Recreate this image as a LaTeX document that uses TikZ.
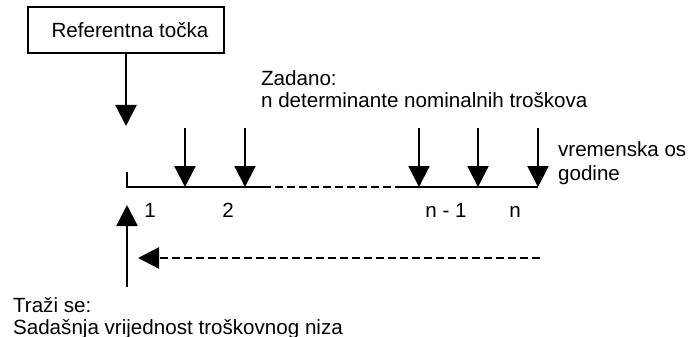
\documentclass[tikz,border=0pt]{standalone}
\usepackage{fontspec}
\setmainfont{Liberation Sans}
\usetikzlibrary{arrows.meta}
\begin{document}
\begin{tikzpicture}[x=1pt,y=-1pt,
  line width=2.2pt,
  txt/.style={font=\fontsize{20.6}{23}\selectfont, inner sep=0pt, anchor=base west},
  num/.style={font=\fontsize{20.6}{23}\selectfont, inner sep=0pt, anchor=base},
  arr/.style={-{Triangle[length=21pt,width=21pt]}},
  dsh/.style={dash pattern=on 8pt off 4pt},
  refbox/.style={draw, line width=2pt, minimum width=196pt, minimum height=46pt,
    inner sep=0pt, font=\fontsize{20.6}{23}\selectfont}]
\useasboundingbox (0,0) rectangle (689,337);

% reference point and its arrow
\node[refbox] (ref) at (126,30) {\hspace*{8pt}Referentna točka};
\coordinate (reftip) at (126,126);
\draw[arr] (ref.south) -- (reftip);

% time axis
\coordinate (t0top) at (127,172);
\coordinate (t0) at (127,187);
\coordinate (s1) at (263,187);
\coordinate (s2) at (400,187);
\coordinate (tn) at (538,187);
\draw[line join=miter] (t0top) -- (t0) -- (s1);
\draw[dsh] (s1) -- (s2);
\draw (s2) -- (tn);

% nominal cost arrows
\foreach \x/\n in {185/1,245/2,419/3,478/4,538/5}{
  \coordinate (top\n) at (\x,128);
  \coordinate (pay\n) at (\x,187);
  \draw[arr] (top\n) -- (pay\n);
}

% period labels
\node[num] (lab1) at (150,217) {1};
\node[num] (lab2) at (228,217) {2};
\node[num] (lab3) at (446,217) {n - 1};
\node[num] (lab4) at (515,217) {n};

% discounting back to the reference point
\coordinate (back0) at (540,258);
\coordinate (back1) at (138,258);
\draw[arr,dsh] (back0) -- (back1);

\coordinate (seekbase) at (127,287);
\coordinate (seektip) at (127,205);
\draw[arr] (seekbase) -- (seektip);

% texts
\node[txt] (given1) at (260,85) {Zadano:};
\node[txt] (given2) at (260,107) {n determinante nominalnih troškova};
\node[txt] (axis1) at (557,157) {vremenska os};
\node[txt] (axis2) at (557,180) {godine};
\node[txt] (sought1) at (12,312) {Traži se:};
\node[txt] (sought2) at (12,334) {Sadašnja vrijednost troškovnog niza};
\end{tikzpicture}
\end{document}
